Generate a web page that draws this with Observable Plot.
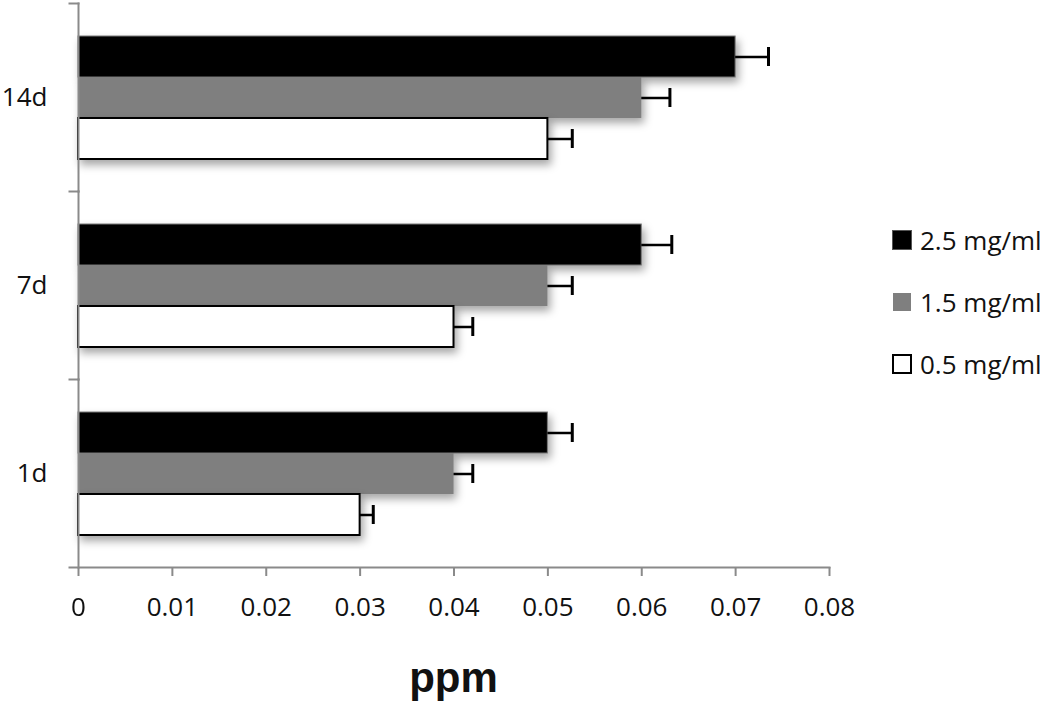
<!DOCTYPE html>
<html>
<head>
<meta charset="utf-8">
<script src="https://cdn.jsdelivr.net/npm/d3@7"></script>
<script src="https://cdn.jsdelivr.net/npm/@observablehq/plot@0.6"></script>
<style>
  html, body { margin: 0; padding: 0; background: #fff; }
  #wrap { position: relative; width: 1050px; height: 706px; font-family: "Open Sans", sans-serif; }
  #xlabel { position: absolute; left: 78px; width: 751px; top: 650px; text-align: center;
            font-family: "Liberation Sans", Arial, sans-serif; font-weight: bold; font-size: 42px; line-height: 56px; color: #111; }
  #legend { position: absolute; left: 892px; top: 209px; }
  .row { display: flex; align-items: center; height: 62px; font-size: 26px; color: #111; }
  .sw { width: 20px; height: 20px; box-sizing: border-box; margin-right: 8px; }
</style>
</head>
<body>
<div id="wrap">
  <div id="chart"></div>
  <div id="xlabel">ppm</div>
  <div id="legend"></div>
</div>
<script>
// ---- data ----
const categories = ["14d", "7d", "1d"];          // top to bottom
const series = ["2.5 mg/ml", "1.5 mg/ml", "0.5 mg/ml"];
const values_2_5 = [0.07, 0.06, 0.05];
const errors_2_5 = [0.0035, 0.0032, 0.0026];
const values_1_5 = [0.06, 0.05, 0.04];
const errors_1_5 = [0.003, 0.0026, 0.002];
const values_0_5 = [0.05, 0.04, 0.03];
const errors_0_5 = [0.0026, 0.002, 0.0014];
const xTicks = [0, 0.01, 0.02, 0.03, 0.04, 0.05, 0.06, 0.07, 0.08];
const xTickLabels = ["0", "0.01", "0.02", "0.03", "0.04", "0.05", "0.06", "0.07", "0.08"];

const seriesValues = [values_2_5, values_1_5, values_0_5];
const seriesErrors = [errors_2_5, errors_1_5, errors_0_5];
const fills = ["#000000", "#7f7f7f", "#ffffff"];
const strokes = ["#7a7a7a", "none", "#000000"];
const strokeWidths = [1, 0, 2];

const rows = [];
series.forEach((s, si) => categories.forEach((c, ci) => {
  rows.push({cat: c, series: s, value: seriesValues[si][ci], err: seriesErrors[si][ci], si});
}));

const W = 1050, H = 650, mL = 78, mR = 221, mT = 3, mB = 83;
const plotW = W - mL - mR;
const axisGray = "#8a8a8a";

const barMarks = series.map((s, si) => Plot.barX(rows.filter(d => d.series === s), {
  x: "value", y: "series", fy: "cat",
  fill: fills[si], stroke: strokes[si], strokeWidth: strokeWidths[si]
}));

const plot = Plot.plot({
  width: W, height: H,
  marginLeft: mL, marginRight: mR, marginTop: mT, marginBottom: mB,
  style: {fontFamily: "Open Sans, sans-serif", fontSize: "26px", color: "#111", background: "#fff"},
  x: {domain: [0, 0.08], axis: null},
  y: {domain: series, paddingInner: 0, paddingOuter: 0.77, axis: null},
  fy: {domain: categories, padding: 0, axis: null},
  marks: [
    ...barMarks,
    Plot.ruleY(rows, {x1: "value", x2: d => d.value + d.err, y: "series", fy: "cat", stroke: "#000", strokeWidth: 2.5}),
    Plot.tickX(rows, {x: d => d.value + d.err, y: "series", fy: "cat", stroke: "#000", strokeWidth: 3, insetTop: 11, insetBottom: 11}),
    Plot.frame({anchor: "left", stroke: axisGray, strokeWidth: 2}),
    Plot.frame({anchor: "top", stroke: axisGray, strokeWidth: 2, insetLeft: -9, insetRight: plotW}),
    Plot.frame({anchor: "bottom", facetAnchor: "bottom", stroke: axisGray, strokeWidth: 2, insetLeft: -9}),
    Plot.axisX({ticks: xTicks, tickFormat: (d, i) => xTickLabels[xTicks.indexOf(d)], tickSize: 9, tickPadding: 21,
                stroke: axisGray, strokeWidth: 2, label: null, fontSize: 26}),
    Plot.axisFy({anchor: "left", tickSize: 0, tickPadding: 31, label: null, fontSize: 26})
  ]
});

document.getElementById("chart").appendChild(plot);
plot.querySelectorAll('g[aria-label="bar"]').forEach(g => {
  g.style.filter = "drop-shadow(3px 5px 4px rgba(0,0,0,0.35))";
});

// legend
const legend = d3.select("#legend");
series.forEach((s, si) => {
  const row = legend.append("div").attr("class", "row");
  const sw = row.append("div").attr("class", "sw")
    .style("background", fills[si])
    .style("border", si === 0 ? "1px solid #555" : si === 2 ? "2px solid #000" : "1.5px solid #fff");
  row.append("span").text(s);
});
</script>
</body>
</html>
